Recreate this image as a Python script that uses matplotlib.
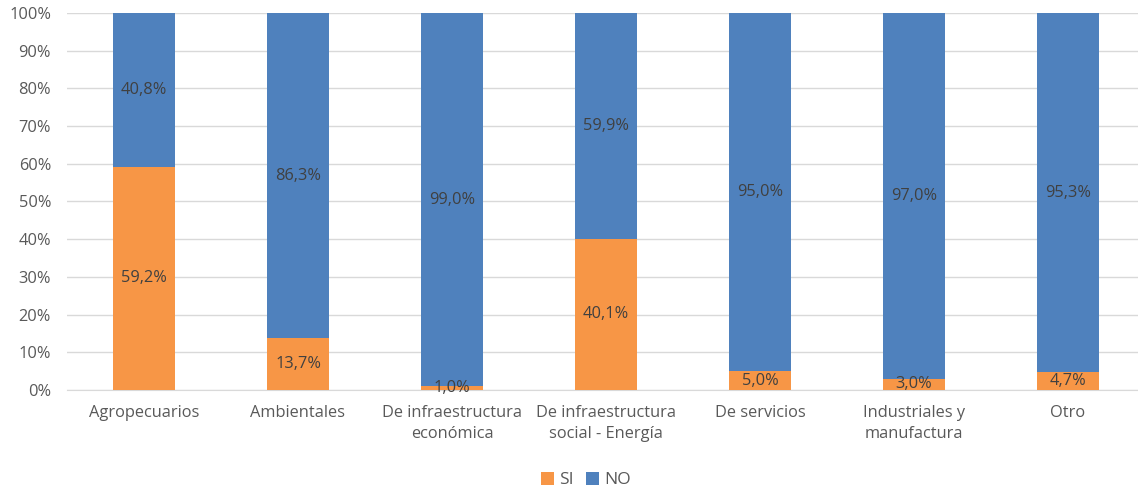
import matplotlib
matplotlib.use("Agg")
import matplotlib.pyplot as plt
import numpy as np

categories = ["Agropecuarios", "Ambientales", "De infraestructura\neconómica",
              "De infraestructura\nsocial - Energía", "De servicios",
              "Industriales y\nmanufactura", "Otro"]
si_values = [59.2, 13.7, 1.0, 40.1, 5.0, 3.0, 4.7]
no_values = [40.8, 86.3, 99.0, 59.9, 95.0, 97.0, 95.3]
series_names = ["SI", "NO"]
yticks = [0, 10, 20, 30, 40, 50, 60, 70, 80, 90, 100]

plt.rcParams['font.family'] = ['Open Sans', 'DejaVu Sans']

fig = plt.figure(figsize=(11.38, 4.92), dpi=100)
ax = fig.add_axes([67 / 1138, 0.207, 1078 / 1138, 0.767])

x = np.arange(len(categories))
orange = "#F79646"
blue = "#4F81BD"
w = 0.4
b1 = ax.bar(x, si_values, width=w, color=orange, label=series_names[0], zorder=3)
b2 = ax.bar(x, no_values, width=w, bottom=si_values, color=blue, label=series_names[1], zorder=3)

for i in range(len(categories)):
    ax.text(x[i], si_values[i] / 2, f"{si_values[i]:.1f}".replace(".", ",") + "%",
            ha="center", va="center", fontsize=11.8, color="#404040", zorder=4)
    ax.text(x[i], si_values[i] + no_values[i] / 2, f"{no_values[i]:.1f}".replace(".", ",") + "%",
            ha="center", va="center", fontsize=11.8, color="#404040", zorder=4)

ax.set_xlim(-0.5, len(categories) - 0.5)
ax.set_ylim(0, 100)
ax.set_yticks(yticks)
ax.set_yticklabels([f"{t}%" for t in yticks])
ax.set_xticks(x)
ax.set_xticklabels(categories, linespacing=1.4)
ax.tick_params(axis="both", length=0, labelsize=11.8, labelcolor="#595959")
ax.tick_params(axis="y", pad=11.5)
ax.tick_params(axis="x", pad=11)
ax.grid(axis="y", color="#D9D9D9", linewidth=1, zorder=0)
for s in ["top", "right", "left"]:
    ax.spines[s].set_visible(False)
ax.spines["bottom"].set_color("#D9D9D9")

fig.legend(handles=[b1, b2], labels=series_names, loc="center", bbox_to_anchor=(0.515, 0.024),
           ncol=2, frameon=False, fontsize=12.5, handlelength=0.75, handleheight=0.75,
           columnspacing=0.7, handletextpad=0.3, labelcolor="#595959")

fig.savefig("out.png", dpi=100)
